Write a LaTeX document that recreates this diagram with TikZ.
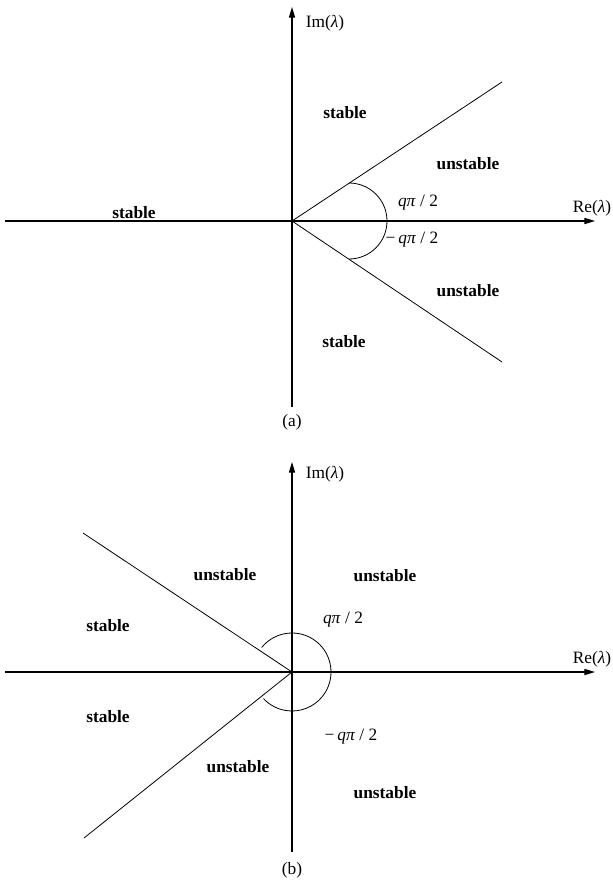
\documentclass[tikz,border=0pt]{standalone}
\usepackage{fontspec}
\setmainfont{Liberation Serif}
\usetikzlibrary{arrows.meta}

\begin{document}
\begin{tikzpicture}[x=0.75pt,y=-0.75pt,
		axis/.style={line width=0.9pt,-{Triangle[length=8pt,width=4.6pt]}},
		ray/.style={line width=0.6pt},
		region/.style={font=\fontsize{13}{15}\selectfont\bfseries},
		lbl/.style={font=\fontsize{13}{15}\selectfont}]
	\useasboundingbox (0,0) rectangle (612,884);
	% panel (a)
	\coordinate (Oa) at (292,221);
	\draw[axis] (5,221) -- (595,221);
	\draw[axis] (292,407) -- (292,7);
	\draw[ray] (Oa) -- (502,82);
	\draw[ray] (Oa) -- (502,362);
	\draw[ray] (349,183) arc[start angle=-90,end angle=90,radius=38];
	\node[lbl] (ima) at (325,23) {Im(\textit{λ})};
	\node[lbl] (rea) at (592,208) {Re(\textit{λ})};
	\node[lbl] (angpa) at (418,203) {\textit{qπ} / 2};
	\node[lbl] (angma) at (412,240) {−\,\textit{qπ} / 2};
	\node[region] (sa1) at (345,113) {stable};
	\node[region] (ua1) at (468,164) {unstable};
	\node[region] (sa2) at (134,213) {stable};
	\node[region] (ua2) at (468,291) {unstable};
	\node[region] (sa3) at (344,342) {stable};
	\node[lbl] (capa) at (292,422) {(a)};
	% panel (b)
	\coordinate (Ob) at (292,672);
	\draw[axis] (5,672) -- (595,672);
	\draw[axis] (292,852) -- (292,462);
	\draw[ray] (Ob) -- (83,533);
	\draw[ray] (Ob) -- (84,838);
	\draw[ray] (Ob) ++(-141:39) arc[start angle=-141,end angle=137,radius=39];
	\node[lbl] (imb) at (325,474) {Im(\textit{λ})};
	\node[lbl] (reb) at (592,659) {Re(\textit{λ})};
	\node[lbl] (angpb) at (343,620) {\textit{qπ} / 2};
	\node[lbl] (angmb) at (351,737) {−\,\textit{qπ} / 2};
	\node[region] (ub1) at (225,575) {unstable};
	\node[region] (ub2) at (385,576) {unstable};
	\node[region] (sb1) at (108,626) {stable};
	\node[region] (sb2) at (108,717) {stable};
	\node[region] (ub3) at (238,767) {unstable};
	\node[region] (ub4) at (385,793) {unstable};
	\node[lbl] (capb) at (292,870) {(b)};
\end{tikzpicture}
\end{document}
